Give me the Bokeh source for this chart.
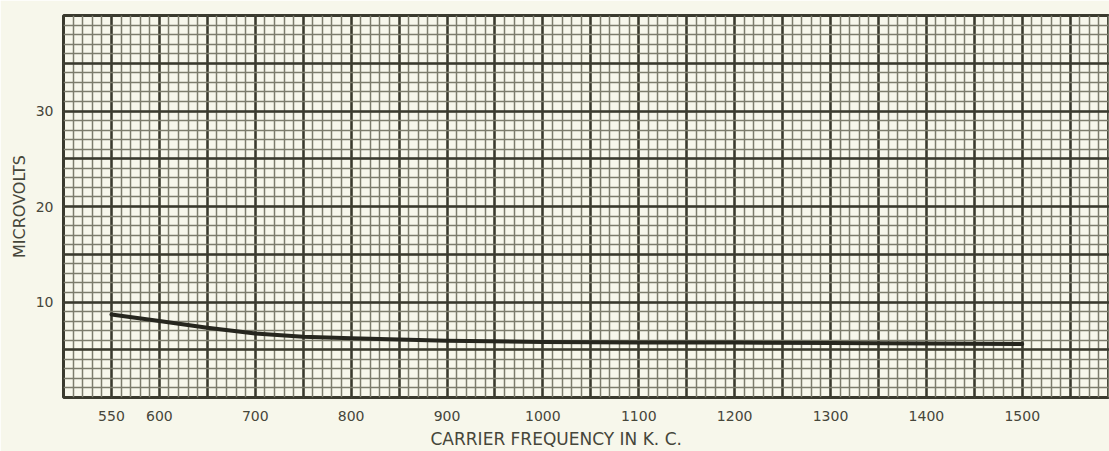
import numpy as np
from bokeh.plotting import figure
from bokeh.models import FixedTicker, Range1d, Title
from bokeh.embed import file_html
from bokeh.resources import INLINE

# ---- data ----
freq_kc = [550, 600, 650, 700, 750, 800, 900, 1000, 1100, 1200, 1300, 1400, 1500]
microvolts = [8.7, 8.0, 7.3, 6.7, 6.35, 6.2, 5.95, 5.8, 5.75, 5.75, 5.7, 5.65, 5.6]
x_tick_labels = [550, 600, 700, 800, 900, 1000, 1100, 1200, 1300, 1400, 1500]
y_tick_labels = [10, 20, 30]
x_title = "CARRIER FREQUENCY IN K. C."
y_title = "MICROVOLTS"

PAPER = "#f7f7eb"
INK = "#46463a"
MAJOR = "#3a3a2e"
MINOR = "#7c7c6c"

p = figure(width=1109, height=451, output_backend="svg", toolbar_location=None,
           x_range=Range1d(500, 1591), y_range=Range1d(0, 40),
           min_border_left=63, min_border_right=0, min_border_top=15,
           min_border_bottom=53)

p.background_fill_color = PAPER
p.border_fill_color = PAPER
p.outline_line_color = MAJOR
p.outline_line_width = 3

# graph-paper grid
p.xgrid.ticker = FixedTicker(ticks=list(np.arange(500, 1650, 50)),
                             minor_ticks=list(np.arange(500, 1650, 10)))
p.ygrid.ticker = FixedTicker(ticks=list(np.arange(0, 45, 5)),
                             minor_ticks=list(np.arange(0, 41, 1)))
for g in (p.xgrid, p.ygrid):
    g.grid_line_color = MAJOR
    g.grid_line_width = 2.5
    g.grid_line_alpha = 1.0
    g.minor_grid_line_color = MINOR
    g.minor_grid_line_width = 1.5
    g.minor_grid_line_alpha = 1.0

# axes
p.xaxis.ticker = FixedTicker(ticks=x_tick_labels)
p.yaxis.ticker = FixedTicker(ticks=y_tick_labels)
for ax in (p.xaxis[0], p.yaxis[0]):
    ax.axis_line_color = None
    ax.major_tick_line_color = None
    ax.minor_tick_line_color = None
    ax.major_tick_out = 0
    ax.major_tick_in = 0
    ax.major_label_text_font = "DejaVu Sans"
    ax.major_label_text_font_size = "14px"
    ax.major_label_text_color = INK
    ax.major_label_text_font_style = "normal"
p.xaxis.major_label_standoff = 13
p.yaxis.major_label_standoff = 10

p.yaxis.axis_label = y_title
p.yaxis.axis_label_text_font = "DejaVu Sans"
p.yaxis.axis_label_text_font_size = "16px"
p.yaxis.axis_label_text_font_style = "normal"
p.yaxis.axis_label_text_color = INK
p.yaxis.axis_label_standoff = 4

p.add_layout(Title(text=x_title, align="left", offset=367,
                   text_font="DejaVu Sans", text_font_size="17px",
                   text_font_style="normal", text_color=INK,
                   standoff=6), "below")

# the curve
p.line(freq_kc, microvolts, line_color="#26261e", line_width=4, line_cap="round",
       line_join="round")

open("out.html", "w").write(file_html(p, INLINE))
